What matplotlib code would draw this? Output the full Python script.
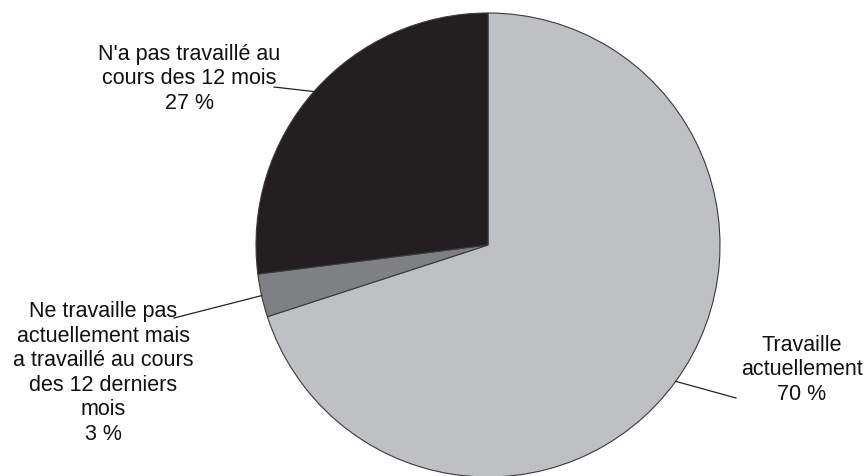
import numpy as np
import matplotlib
matplotlib.use('Agg')
from matplotlib import pyplot as plt

labels = ["Travaille\nactuellement\n70 %",
          "Ne travaille pas\nactuellement mais\na travaillé au cours\ndes 12 derniers\nmois\n3 %",
          "N'a pas travaillé au\ncours des 12 mois\n27 %"]
values = [70, 3, 27]
colors = ['#bfc0c4', '#7f8083', '#231f20']

plt.rcParams['font.family'] = ['Liberation Sans', 'DejaVu Sans']

fig = plt.figure(figsize=(8.67, 4.77), dpi=100)
ax = fig.add_axes([0, 0, 1, 1])

cx, cy, r = 488, 231, 232
wedges, _ = ax.pie(values, colors=colors, startangle=90, counterclock=False,
                   center=(cx, cy), radius=r,
                   wedgeprops=dict(edgecolor='#3a3a3a', linewidth=0.8))
ax.set_xlim(0, 867)
ax.set_ylim(0, 477)
ax.set_aspect('equal')
ax.axis('off')

# label block centres and leader line starts (layout, pixel coords from top)
text_pos = [(802, 370), (103, 373), (189, 79)]
line_start = [(736, 399), (174, 319), (274, 88)]

for w, lab, tp, ls in zip(wedges, labels, text_pos, line_start):
    mid = np.deg2rad((w.theta1 + w.theta2) / 2)
    ex, ey = cx + r * np.cos(mid), cy + r * np.sin(mid)
    ax.text(tp[0], 477 - tp[1], lab, ha='center', va='center', fontsize=15.5,
            linespacing=1.22, color='#111111')
    ax.plot([ls[0], ex], [477 - ls[1], ey], color='#222222', lw=0.9)

fig.savefig('out.png', dpi=100)
